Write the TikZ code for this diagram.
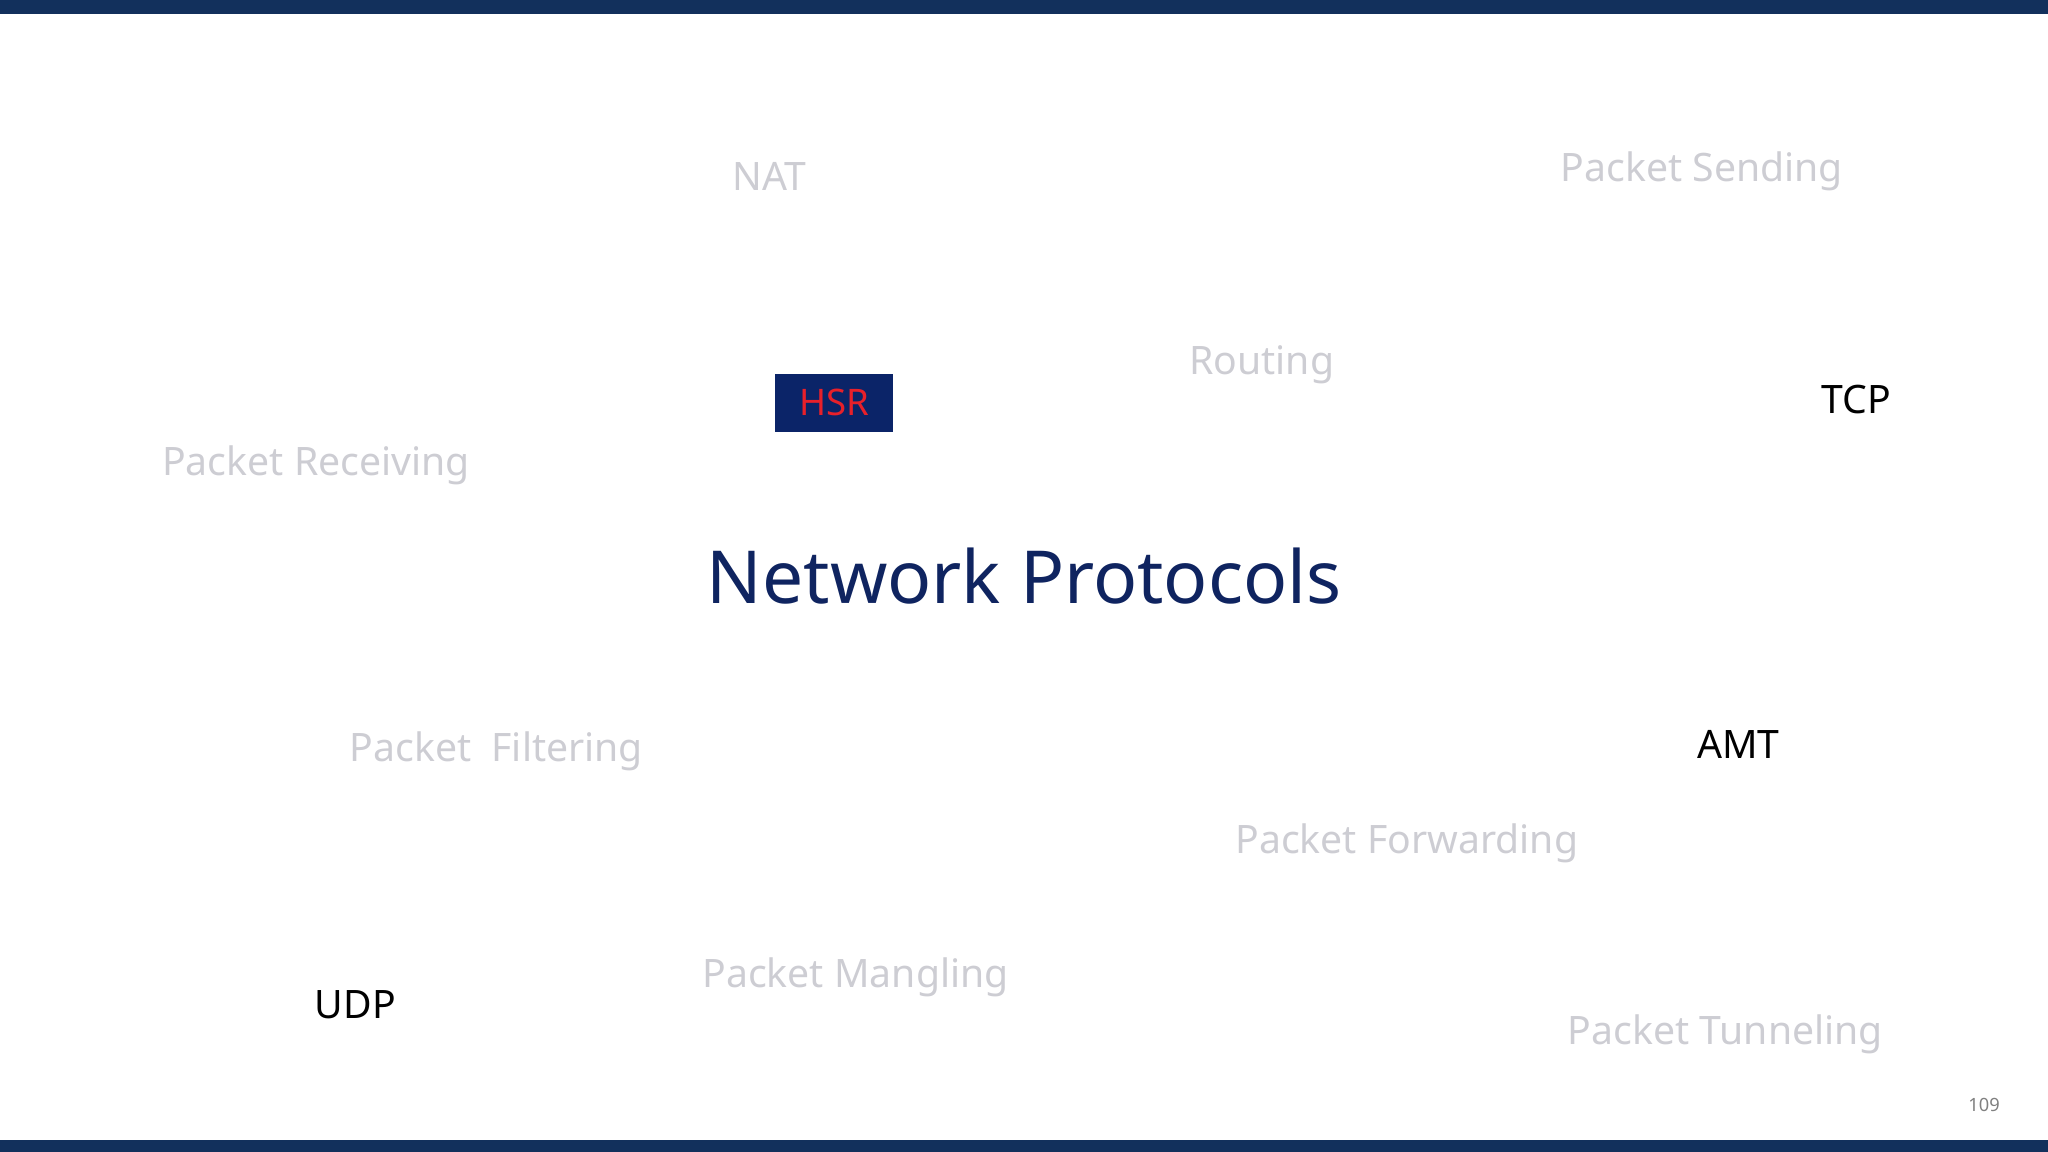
\documentclass[tikz,border=0pt]{standalone}
\usepackage{fontspec}
\setmainfont{Noto Sans}
\definecolor{navy}{HTML}{12305C}
\definecolor{boxnavy}{HTML}{0B2468}
\definecolor{titlenavy}{HTML}{0F2460}
\definecolor{faint}{HTML}{CDCDD3}
\definecolor{hsrred}{HTML}{E8202A}
\begin{document}
\begin{tikzpicture}[x=1pt,y=-1pt,
  faintlbl/.style={text=faint,font=\fontsize{30}{32}\selectfont,inner sep=0pt},
  darklbl/.style={text=black,font=\fontsize{30}{32}\selectfont,inner sep=0pt}]
\useasboundingbox (0,0) rectangle (1568,882);
\fill[navy] (0,0) rectangle (1568,11);
\fill[navy] (0,873) rectangle (1568,882);
\node[faintlbl] (nat) at (589,135) {NAT};
\node[faintlbl] (send) at (1303,131) {Packet Sending};
\node[faintlbl] (rout) at (966,279) {Routing};
\node[darklbl] (tcp) at (1421,306) {TCP};
\node[faintlbl] (recv) at (242,356) {Packet Receiving};
\node[fill=boxnavy,text=hsrred,font=\fontsize{28}{30}\selectfont,minimum width=91pt,minimum height=45pt,inner sep=0pt] (hsr) at (638.5,308.5) {HSR};
\node[text=titlenavy,font=\fontsize{56}{60}\selectfont,inner sep=0pt] (title) at (784,441) {Network Protocols};
\node[faintlbl] (filt) at (380,575) {Packet\ \ Filtering};
\node[darklbl] (amt) at (1331,570) {AMT};
\node[faintlbl] (fwd) at (1077,646) {Packet Forwarding};
\node[faintlbl] (mang) at (655,748) {Packet Mangling};
\node[darklbl] (udp) at (272,769) {UDP};
\node[faintlbl] (tun) at (1321,792) {Packet Tunneling};
\node[text=gray,font=\fontsize{14}{16}\selectfont,inner sep=0pt] (pg) at (1519,846) {109};
\end{tikzpicture}
\end{document}
